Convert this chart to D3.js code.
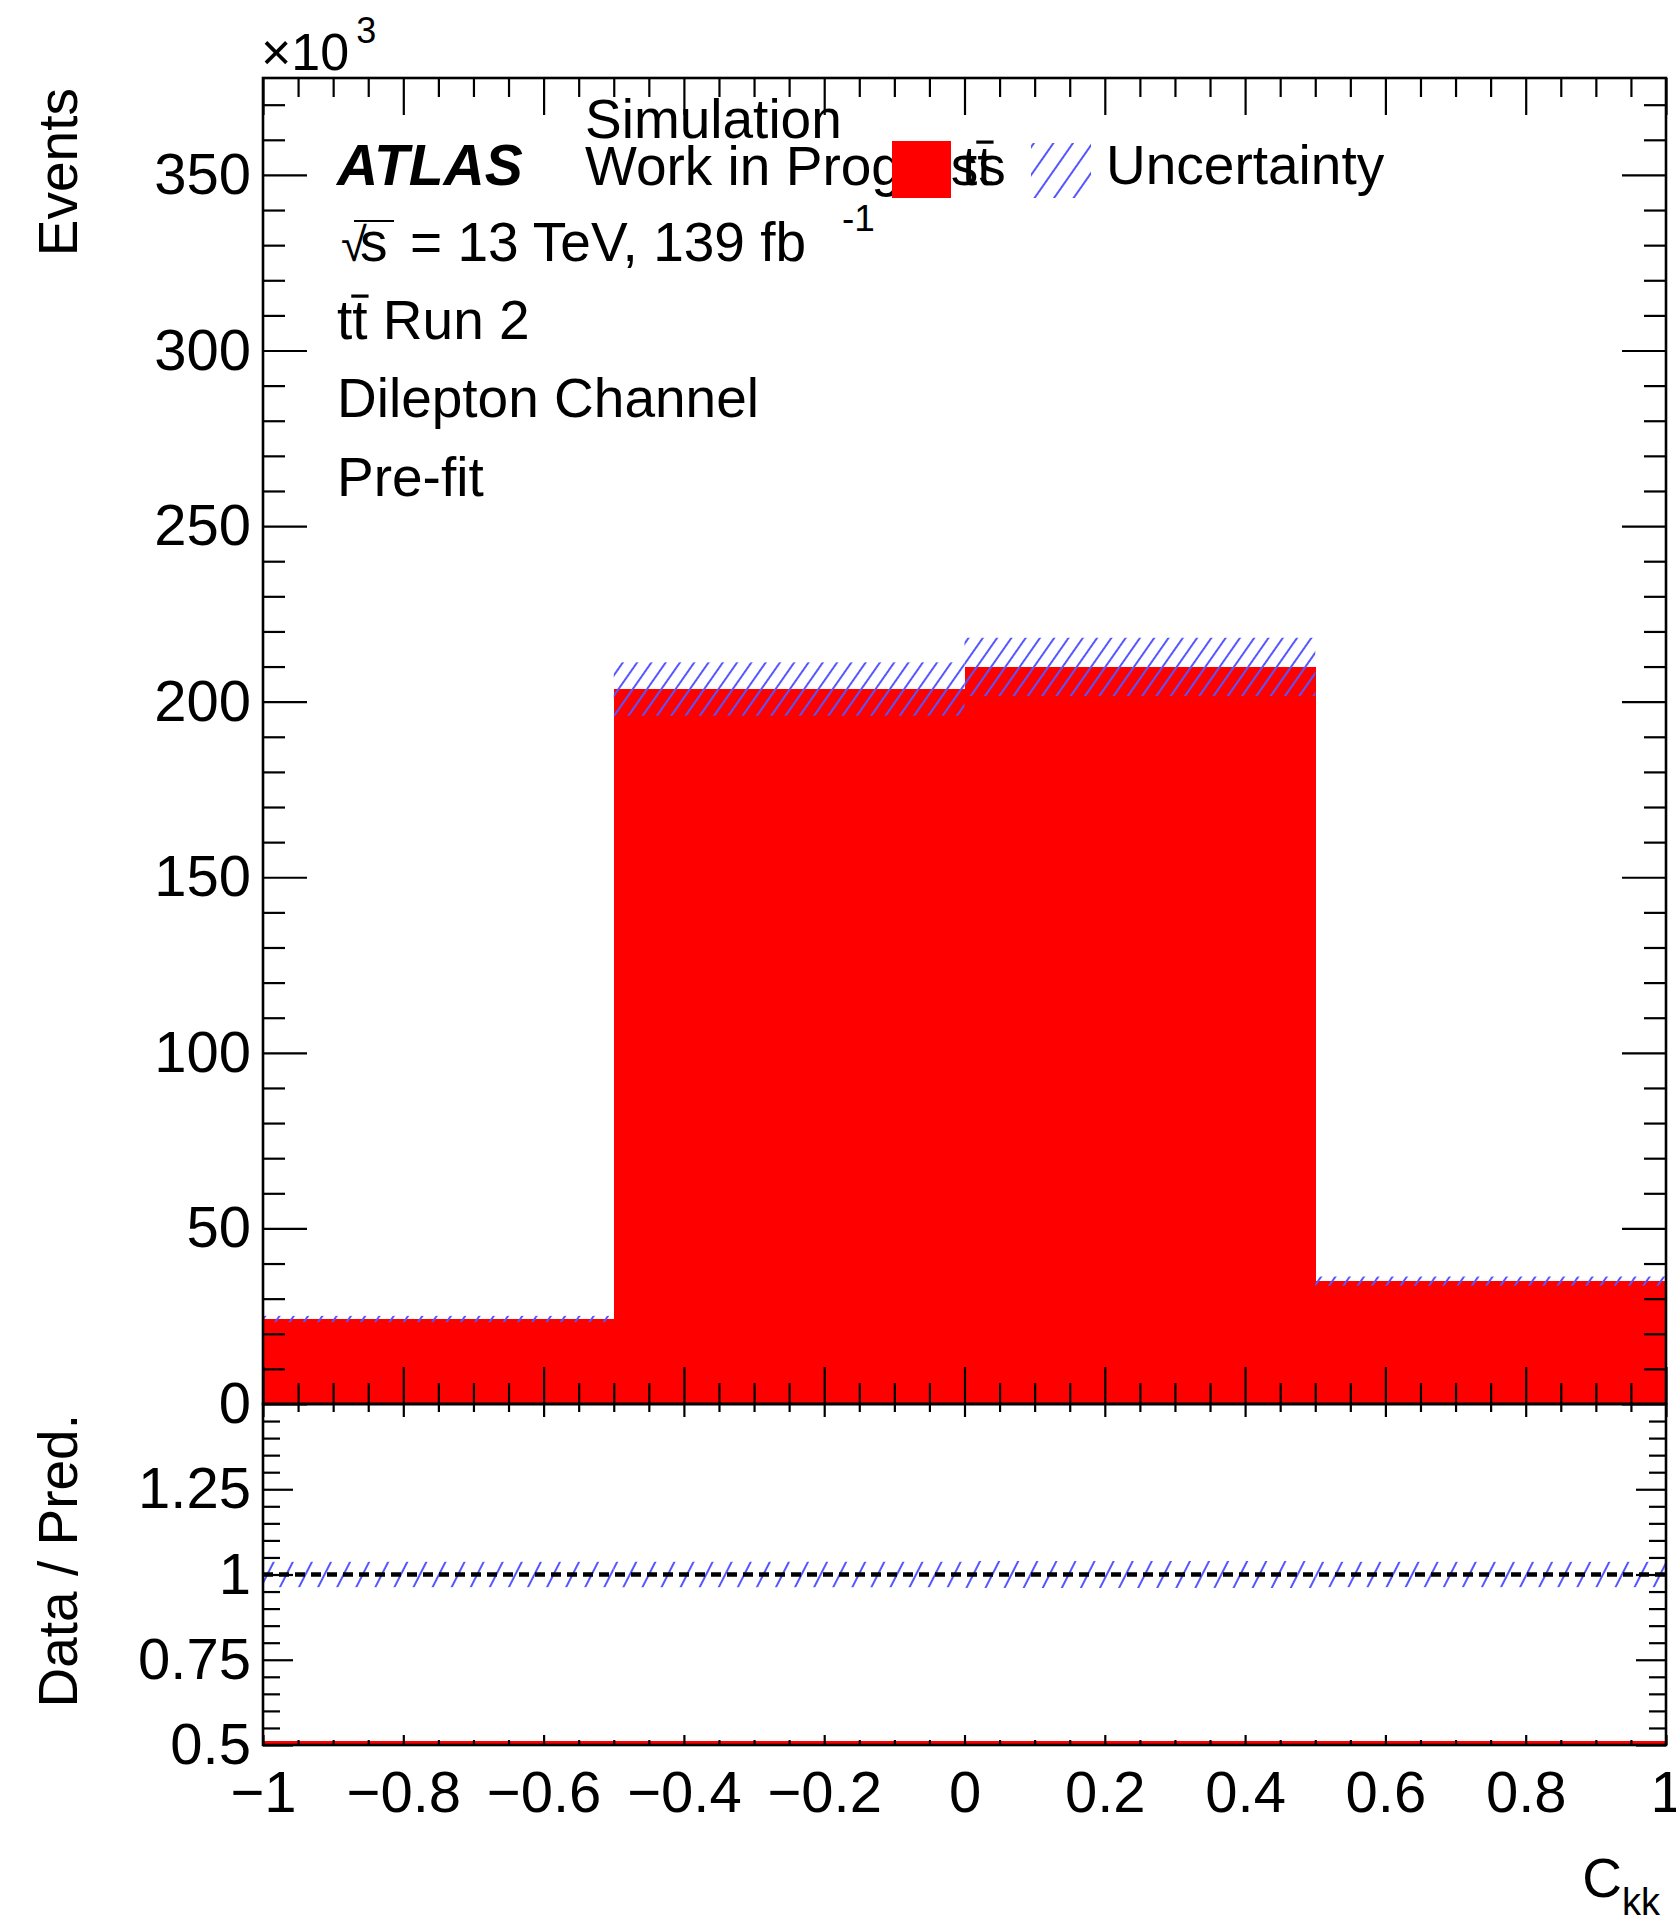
<!DOCTYPE html>
<html>
<head>
<meta charset="utf-8">
<script src="https://cdn.jsdelivr.net/npm/d3@7"></script>
<style>
  html, body { margin: 0; padding: 0; background: #ffffff; }
  svg { display: block; }
  text { font-family: "Liberation Sans", Arial, Helvetica, sans-serif; fill: #000; }
</style>
</head>
<body>
<script>
// ---------------- data ----------------
const binEdges   = [-1, -0.5, 0, 0.5, 1];
const ttbarVals  = [24.2, 203.6, 209.9, 35.0];   // events x10^3
const ttbarUnc   = [0.9, 7.6, 8.3, 1.3];         // events x10^3
const ratioVals  = [1, 1, 1, 1];
const mainYTicks = [0, 50, 100, 150, 200, 250, 300, 350];
const ratioYTicks = [0.5, 0.75, 1, 1.25];
const ratioYLabels = ["0.5", "0.75", "1", "1.25"];
const xTicks = [-1, -0.8, -0.6, -0.4, -0.2, 0, 0.2, 0.4, 0.6, 0.8, 1];
const xTickLabels = ["\u22121", "\u22120.8", "\u22120.6", "\u22120.4", "\u22120.2", "0", "0.2", "0.4", "0.6", "0.8", "1"];
const infoLines = ["Run 2", "Dilepton Channel", "Pre-fit"];

// ---------------- layout ----------------
const W = 1676, H = 1920;
const L = 263, R = 1666, mainTop = 78, mainBot = 1404, ratioBot = 1745;
const FS = 58;     // tick labels
const TS = 55;     // text labels

const svg = d3.select("body").append("svg").attr("width", W).attr("height", H);
svg.append("rect").attr("width", W).attr("height", H).attr("fill", "#fff");

const x  = d3.scaleLinear().domain([-1, 1]).range([L, R]);
const y  = d3.scaleLinear().domain([0, 377.6]).range([mainBot, mainTop]);
const yr = d3.scaleLinear().domain([0.5, 1.5]).range([ratioBot, mainBot]);

const defs = svg.append("defs");
function hatch(id, spacing, angle) {
  const p = defs.append("pattern").attr("id", id)
    .attr("patternUnits", "userSpaceOnUse")
    .attr("width", spacing).attr("height", spacing)
    .attr("patternTransform", `rotate(${angle})`);
  p.append("line").attr("x1", 1).attr("y1", 0).attr("x2", 1).attr("y2", spacing)
    .attr("stroke", "#5656ff").attr("stroke-width", 2);
}
hatch("hatchMain", 11.7, 35);
hatch("hatchRatio", 17, 27);
hatch("hatchLeg", 16, 35);

defs.append("clipPath").attr("id", "clipMain").append("rect")
  .attr("x", L).attr("y", mainTop).attr("width", R - L).attr("height", mainBot - mainTop);
defs.append("clipPath").attr("id", "clipRatio").append("rect")
  .attr("x", L).attr("y", mainBot).attr("width", R - L).attr("height", ratioBot - mainBot);

const bins = ttbarVals.map((v, i) => ({ x0: binEdges[i], x1: binEdges[i + 1], v, e: ttbarUnc[i], r: ratioVals[i] }));

// ---------------- main panel ----------------
const gMain = svg.append("g").attr("clip-path", "url(#clipMain)");
gMain.selectAll("rect.bar").data(bins).join("rect").attr("class", "bar")
  .attr("x", d => x(d.x0)).attr("width", d => x(d.x1) - x(d.x0) + 0.5)
  .attr("y", d => y(d.v)).attr("height", d => y(0) - y(d.v))
  .attr("fill", "#ff0000").attr("shape-rendering", "crispEdges");
gMain.selectAll("rect.unc").data(bins).join("rect").attr("class", "unc")
  .attr("x", d => x(d.x0)).attr("width", d => x(d.x1) - x(d.x0))
  .attr("y", d => y(d.v + d.e)).attr("height", d => y(d.v - d.e) - y(d.v + d.e))
  .attr("fill", "url(#hatchMain)");

// ---------------- ratio panel ----------------
const gRatio = svg.append("g").attr("clip-path", "url(#clipRatio)");
gRatio.selectAll("rect.unc").data(bins).join("rect").attr("class", "unc")
  .attr("x", d => x(d.x0)).attr("width", d => x(d.x1) - x(d.x0))
  .attr("y", d => yr(d.r + d.e / d.v)).attr("height", d => yr(d.r - d.e / d.v) - yr(d.r + d.e / d.v))
  .attr("fill", "url(#hatchRatio)");
gRatio.append("line").attr("x1", x(-1)).attr("x2", x(1)).attr("y1", yr(1)).attr("y2", yr(1))
  .attr("stroke", "#000").attr("stroke-width", 4.5).attr("stroke-dasharray", "10,6");
gRatio.append("line").attr("x1", x(-1)).attr("x2", x(1)).attr("y1", yr(0.5) - 2.5).attr("y2", yr(0.5) - 2.5)
  .attr("stroke", "#ff0000").attr("stroke-width", 3);

// ---------------- axes ----------------
const xMinor = d3.range(-1, 1.0001, 0.05).map(v => +v.toFixed(2)).filter(v => Math.abs(Math.round(v * 5) - v * 5) > 1e-6);
const yMinor = d3.range(0, 377, 10).filter(v => v % 50 !== 0);
const rMinor = d3.range(0.5, 1.5001, 0.05).map(v => +v.toFixed(2)).filter(v => Math.abs(Math.round(v * 4) - v * 4) > 1e-6);

function styleAxis(g) {
  g.select(".domain").remove();
  g.selectAll(".tick line").attr("stroke", "#000").attr("stroke-width", 2.2);
  g.selectAll(".tick text").attr("font-size", FS).attr("font-family", '"Liberation Sans", Arial, sans-serif').attr("fill", "#000");
}
function axis(gen, tr) {
  const g = svg.append("g").attr("transform", tr).call(gen);
  styleAxis(g);
  return g;
}
// main x bottom and top
axis(d3.axisBottom(x).tickValues(xTicks).tickSize(-37).tickFormat(""), `translate(0,${mainBot})`);
axis(d3.axisBottom(x).tickValues(xMinor).tickSize(-21).tickFormat(""), `translate(0,${mainBot})`);
axis(d3.axisTop(x).tickValues(xTicks).tickSize(-37).tickFormat(""), `translate(0,${mainTop})`);
axis(d3.axisTop(x).tickValues(xMinor).tickSize(-19).tickFormat(""), `translate(0,${mainTop})`);
// main y left and right
axis(d3.axisLeft(y).tickValues(mainYTicks).tickSize(-44).tickPadding(12).tickFormat(d3.format("d")), `translate(${L},0)`);
axis(d3.axisLeft(y).tickValues(yMinor).tickSize(-22).tickFormat(""), `translate(${L},0)`);
axis(d3.axisRight(y).tickValues(mainYTicks).tickSize(-44).tickFormat(""), `translate(${R},0)`);
axis(d3.axisRight(y).tickValues(yMinor).tickSize(-22).tickFormat(""), `translate(${R},0)`);
// ratio x top and bottom
axis(d3.axisTop(x).tickValues(xTicks).tickSize(-13).tickFormat(""), `translate(0,${mainBot})`);
axis(d3.axisTop(x).tickValues(xMinor).tickSize(-8).tickFormat(""), `translate(0,${mainBot})`);
axis(d3.axisBottom(x).tickValues(xTicks).tickSize(-10).tickPadding(26).tickFormat((d, i) => xTickLabels[i]), `translate(0,${ratioBot})`);
axis(d3.axisBottom(x).tickValues(xMinor).tickSize(-5).tickFormat(""), `translate(0,${ratioBot})`);
// ratio y left and right
axis(d3.axisLeft(yr).tickValues(ratioYTicks).tickSize(-30).tickPadding(12).tickFormat((d, i) => ratioYLabels[i]), `translate(${L},0)`);
axis(d3.axisLeft(yr).tickValues(rMinor).tickSize(-17).tickFormat(""), `translate(${L},0)`);
axis(d3.axisRight(yr).tickValues(ratioYTicks).tickSize(-30).tickFormat(""), `translate(${R},0)`);
axis(d3.axisRight(yr).tickValues(rMinor).tickSize(-17).tickFormat(""), `translate(${R},0)`);

// frames
svg.append("rect").attr("x", L).attr("y", mainTop).attr("width", R - L).attr("height", mainBot - mainTop)
  .attr("fill", "none").attr("stroke", "#000").attr("stroke-width", 2.6);
svg.append("rect").attr("x", L).attr("y", mainBot).attr("width", R - L).attr("height", ratioBot - mainBot)
  .attr("fill", "none").attr("stroke", "#000").attr("stroke-width", 2.6);

// ---------------- axis titles ----------------
svg.append("text").attr("transform", `translate(77,88) rotate(-90)`).attr("text-anchor", "end")
  .attr("font-size", 55).text("Events");
svg.append("text").attr("transform", `translate(77,1414) rotate(-90)`).attr("text-anchor", "end")
  .attr("font-size", 55).text("Data / Pred.");
const xt = svg.append("text").attr("x", 1660).attr("y", 1897).attr("text-anchor", "end").attr("font-size", 55);
xt.append("tspan").text("C");
xt.append("tspan").attr("font-size", 38).attr("dy", 18).text("kk");
// x10^3
const ex = svg.append("text").attr("x", 261).attr("y", 70).attr("font-size", 52);
ex.append("tspan").text("\u00d710");
ex.append("tspan").attr("font-size", 36).attr("dy", -27).attr("dx", 7).text("3");

// helper: draw bar over a character range of a text element
function overline(textSel, charIdx, fs, extraL, extraR) {
  const node = textSel.node();
  const s = node.getStartPositionOfChar(charIdx);
  const e = node.getEndPositionOfChar(charIdx);
  svg.append("line").attr("x1", s.x - (extraL || 0)).attr("x2", e.x + (extraR || 0))
    .attr("y1", s.y - 0.78 * fs).attr("y2", s.y - 0.78 * fs)
    .attr("stroke", "#000").attr("stroke-width", 3.2);
}

// ---------------- labels ----------------
svg.append("text").attr("x", 337).attr("y", 185).attr("font-size", 57)
  .attr("font-weight", "bold").attr("font-style", "italic").text("ATLAS");
svg.append("text").attr("x", 585).attr("y", 138).attr("font-size", TS).text("Simulation");
svg.append("text").attr("x", 585).attr("y", 185).attr("font-size", TS).text("Work in Progress");

// sqrt(s) line
const rs = svg.append("text").attr("y", 261).attr("font-size", TS);
rs.append("tspan").attr("x", 341).attr("font-size", 47).text("\u221a");
rs.append("tspan").attr("x", 360).text("s");
rs.append("tspan").attr("x", 410).text("= 13 TeV, 139 fb");
rs.append("tspan").attr("x", 842).attr("dy", -30).attr("font-size", 37).text("-1");
svg.append("line").attr("x1", 354).attr("x2", 394).attr("y1", 221).attr("y2", 221)
  .attr("stroke", "#000").attr("stroke-width", 2);

// info lines
const infoY = [339, 417, 496];
infoLines.forEach((t, i) => {
  const tx = svg.append("text").attr("x", 337).attr("y", infoY[i]).attr("font-size", TS);
  if (i === 0) {
    tx.text("tt " + t);
    overline(tx, 1, TS, 1, 1);
  } else {
    tx.text(t);
  }
});

// legend
svg.append("rect").attr("x", 892).attr("y", 141).attr("width", 59).attr("height", 57).attr("fill", "#ff0000");
const lt = svg.append("text").attr("x", 962).attr("y", 185).attr("font-size", TS).text("tt");
overline(lt, 1, TS, 1, 1);
svg.append("rect").attr("x", 1031).attr("y", 143).attr("width", 60).attr("height", 55).attr("fill", "url(#hatchLeg)");
svg.append("text").attr("x", 1106).attr("y", 184).attr("font-size", TS).text("Uncertainty");
</script>
</body>
</html>
